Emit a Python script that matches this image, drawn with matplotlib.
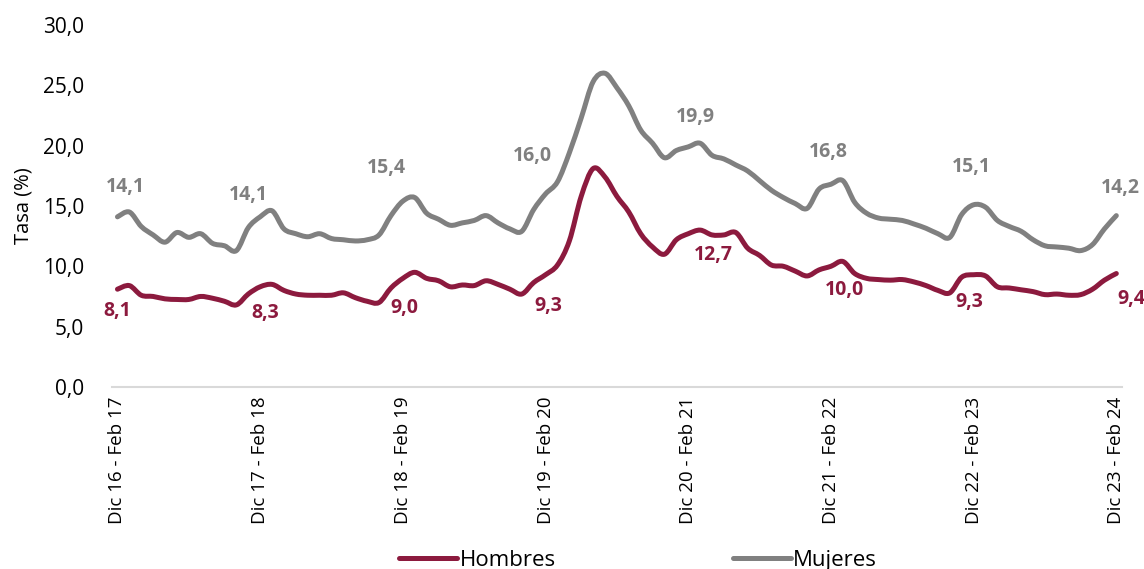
import matplotlib
matplotlib.use("Agg")
import matplotlib.pyplot as plt
from matplotlib.ticker import FuncFormatter
from matplotlib.path import Path
from matplotlib.patches import PathPatch
from matplotlib.lines import Line2D

plt.rcParams['font.family'] = ['Open Sans', 'DejaVu Sans']

years = ["16", "17", "18", "19", "20", "21", "22", "23"]
tick_labels = [f"Dic {y} - Feb {int(y) + 1}" for y in years]

hombres = [8.1, 8.4, 7.6, 7.5, 7.3, 7.25, 7.25, 7.5, 7.35, 7.1, 6.8, 7.7,
           8.3, 8.5, 8.0, 7.7, 7.6, 7.6, 7.6, 7.8, 7.4, 7.1, 7.0, 8.2,
           9.0, 9.5, 9.0, 8.8, 8.3, 8.45, 8.4, 8.8, 8.5, 8.1, 7.7, 8.65,
           9.3, 10.1, 12.1, 15.8, 18.1, 17.4, 15.8, 14.5, 12.7, 11.6, 11.0, 12.2,
           12.7, 13.0, 12.6, 12.6, 12.8, 11.5, 10.9, 10.1, 10.0, 9.6, 9.2, 9.7,
           10.0, 10.4, 9.4, 9.0, 8.9, 8.85, 8.9, 8.7, 8.4, 8.0, 7.8, 9.1,
           9.3, 9.2, 8.3, 8.2, 8.05, 7.9, 7.65, 7.7, 7.6, 7.65, 8.1, 8.85,
           9.4]

mujeres = [14.1, 14.5, 13.3, 12.6, 12.0, 12.8, 12.4, 12.7, 11.9, 11.7, 11.3, 13.2,
           14.1, 14.6, 13.1, 12.7, 12.45, 12.7, 12.3, 12.2, 12.1, 12.2, 12.6, 14.2,
           15.4, 15.7, 14.4, 13.9, 13.4, 13.6, 13.8, 14.2, 13.6, 13.1, 12.9, 14.7,
           16.0, 17.0, 19.4, 22.3, 25.3, 26.0, 24.8, 23.3, 21.3, 20.2, 19.0, 19.6,
           19.9, 20.2, 19.2, 18.9, 18.4, 17.9, 17.1, 16.3, 15.7, 15.2, 14.8, 16.4,
           16.8, 17.1, 15.3, 14.4, 14.0, 13.9, 13.8, 13.5, 13.15, 12.7, 12.4, 14.3,
           15.1, 14.9, 13.8, 13.3, 12.9, 12.2, 11.7, 11.6, 11.5, 11.3, 11.8, 13.1,
           14.2]

label_idx = [0, 12, 24, 36, 48, 60, 72, 84]
labels_h = [8.1, 8.3, 9.0, 9.3, 12.7, 10.0, 9.3, 9.4]
labels_m = [14.1, 14.1, 15.4, 16.0, 19.9, 16.8, 15.1, 14.2]

c_h = "#8C1A3E"
c_m = "#808080"
LW = 3.6


def smooth_path(xs, ys):
    """Smoothed line (like a spreadsheet 'smoothed line') through the data points."""
    pts = list(zip(xs, ys))
    n = len(pts)
    verts = [pts[0]]
    codes = [Path.MOVETO]
    for k in range(n - 1):
        p0 = pts[k - 1] if k > 0 else pts[k]
        p1 = pts[k]
        p2 = pts[k + 1]
        p3 = pts[k + 2] if k + 2 < n else pts[k + 1]
        c1 = (p1[0] + (p2[0] - p0[0]) / 6, p1[1] + (p2[1] - p0[1]) / 6)
        c2 = (p2[0] - (p3[0] - p1[0]) / 6, p2[1] - (p3[1] - p1[1]) / 6)
        verts += [c1, c2, p2]
        codes += [Path.CURVE4] * 3
    return Path(verts, codes)


fig = plt.figure(figsize=(11.44, 5.69), dpi=100)
ax = fig.add_axes([0.098, 0.32, 0.883, 0.636])

x = list(range(len(hombres)))
for series, col in [(hombres, c_h), (mujeres, c_m)]:
    ax.add_patch(PathPatch(smooth_path(x, series), fill=False, edgecolor=col, lw=LW,
                           joinstyle="round", capstyle="round"))

ax.set_ylim(0, 30)
ax.set_xlim(-0.45, 84.5)
ax.set_yticks(range(0, 31, 5))
ax.yaxis.set_major_formatter(FuncFormatter(lambda v, p: f"{v:.1f}".replace(".", ",")))
ax.set_xticks(label_idx)
ax.set_xticklabels(tick_labels, rotation=90)
ax.tick_params(axis="y", length=0, labelsize=15, pad=20)
ax.tick_params(axis="x", length=0, labelsize=13.5, pad=7)
ax.set_ylabel("Tasa (%)", fontsize=14.5, labelpad=7)

for s in ["top", "right", "left"]:
    ax.spines[s].set_visible(False)
ax.spines["bottom"].set_color("#D9D9D9")
ax.spines["bottom"].set_linewidth(1.5)

# label offsets in pixels -> points
off_m = [(8, 30), (-12, 22), (-16, 33), (-13, 38), (7, 30), (-3, 32), (-2, 38), (4, 28)]
off_h = [(0, -22), (5, -26), (2, -30), (3, -31), (25, -21), (14, -24), (-4, -27), (15, -25)]
for i, lm, lh, om, oh in zip(label_idx, labels_m, labels_h, off_m, off_h):
    ax.annotate(f"{lm:.1f}".replace(".", ","), xy=(i, mujeres[i]),
                xytext=(om[0] * 0.72, om[1] * 0.72), textcoords="offset points",
                ha="center", va="center", fontsize=14, fontweight="bold", color=c_m)
    ax.annotate(f"{lh:.1f}".replace(".", ","), xy=(i, hombres[i]),
                xytext=(oh[0] * 0.72, oh[1] * 0.72), textcoords="offset points",
                ha="center", va="center", fontsize=14, fontweight="bold", color=c_h)

handles = [Line2D([], [], color=c_h, lw=LW, solid_capstyle="round"),
           Line2D([], [], color=c_m, lw=LW, solid_capstyle="round")]
fig.legend(handles, ["Hombres", "Mujeres"], loc="lower center", bbox_to_anchor=(0.558, -0.039),
           ncol=2, frameon=False, fontsize=16, handlelength=2.6, handletextpad=0.1,
           columnspacing=8.0)

fig.savefig("out.png", dpi=100)
